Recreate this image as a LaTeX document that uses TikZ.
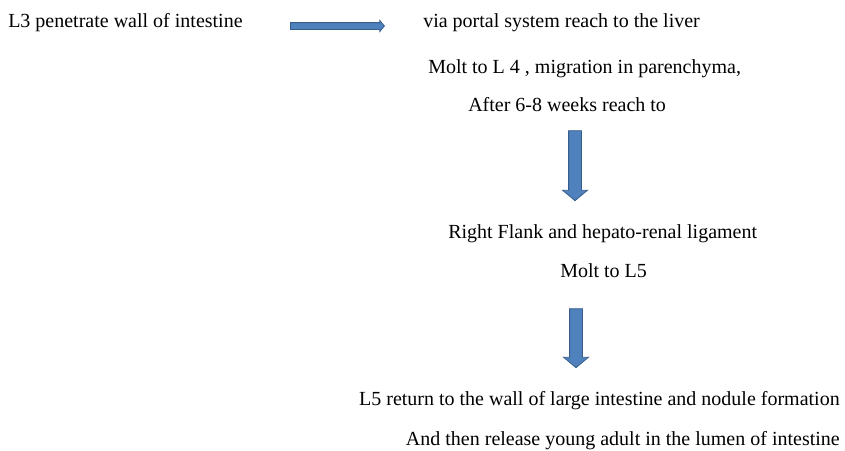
\documentclass[tikz,border=0pt]{standalone}
\usepackage{fontspec}
\setmainfont{Liberation Serif}
\usetikzlibrary{shapes.arrows}

\definecolor{arrowfill}{HTML}{4F81BD}
\definecolor{arrowline}{HTML}{385D8A}

\tikzset{
  txt/.style={inner sep=0pt, font=\fontsize{15}{18}\selectfont},
  flatarrow/.style={single arrow, draw=arrowline, fill=arrowfill, line width=0.6pt,
    inner sep=2.25pt, single arrow head extend=1.6pt, single arrow tip angle=100},
  downarrow/.style={single arrow, draw=arrowline, fill=arrowfill, line width=0.6pt,
    inner sep=4.5pt, single arrow head extend=4.5pt, single arrow tip angle=100,
    rotate=-90}
}

\begin{document}
\begin{tikzpicture}[x=0.75pt, y=-0.75pt]
\useasboundingbox (0,0) rectangle (845,450);

% first line
\node[txt, anchor=base west] (l3) at (8,27) {L3 penetrate wall of intestine};
\node[txt, anchor=base west] (portal) at (423,27) {via portal system reach to the liver};
\node[flatarrow, minimum height=70.5pt] (arrA) at (336,26) {};

% liver
\node[txt, anchor=base west] (molt4) at (428,73) {Molt to L 4 , migration in parenchyma,};
\node[txt, anchor=base west] (weeks) at (468,111) {After 6-8 weeks reach to};
\node[downarrow, minimum height=52.5pt] (arrB) at (575,163) {};

% flank
\node[txt, anchor=base west] (flank) at (448,238) {Right Flank and hepato-renal ligament};
\node[txt, anchor=base west] (molt5) at (560,277) {Molt to L5};
\node[downarrow, minimum height=44.25pt] (arrC) at (576,335.5) {};

% back to the intestine
\node[txt, anchor=base east] (ret) at (840,405) {L5 return to the wall of large intestine and nodule formation};
\node[txt, anchor=base east] (release) at (840,445) {And then release young adult in the lumen of intestine};

\end{tikzpicture}
\end{document}
